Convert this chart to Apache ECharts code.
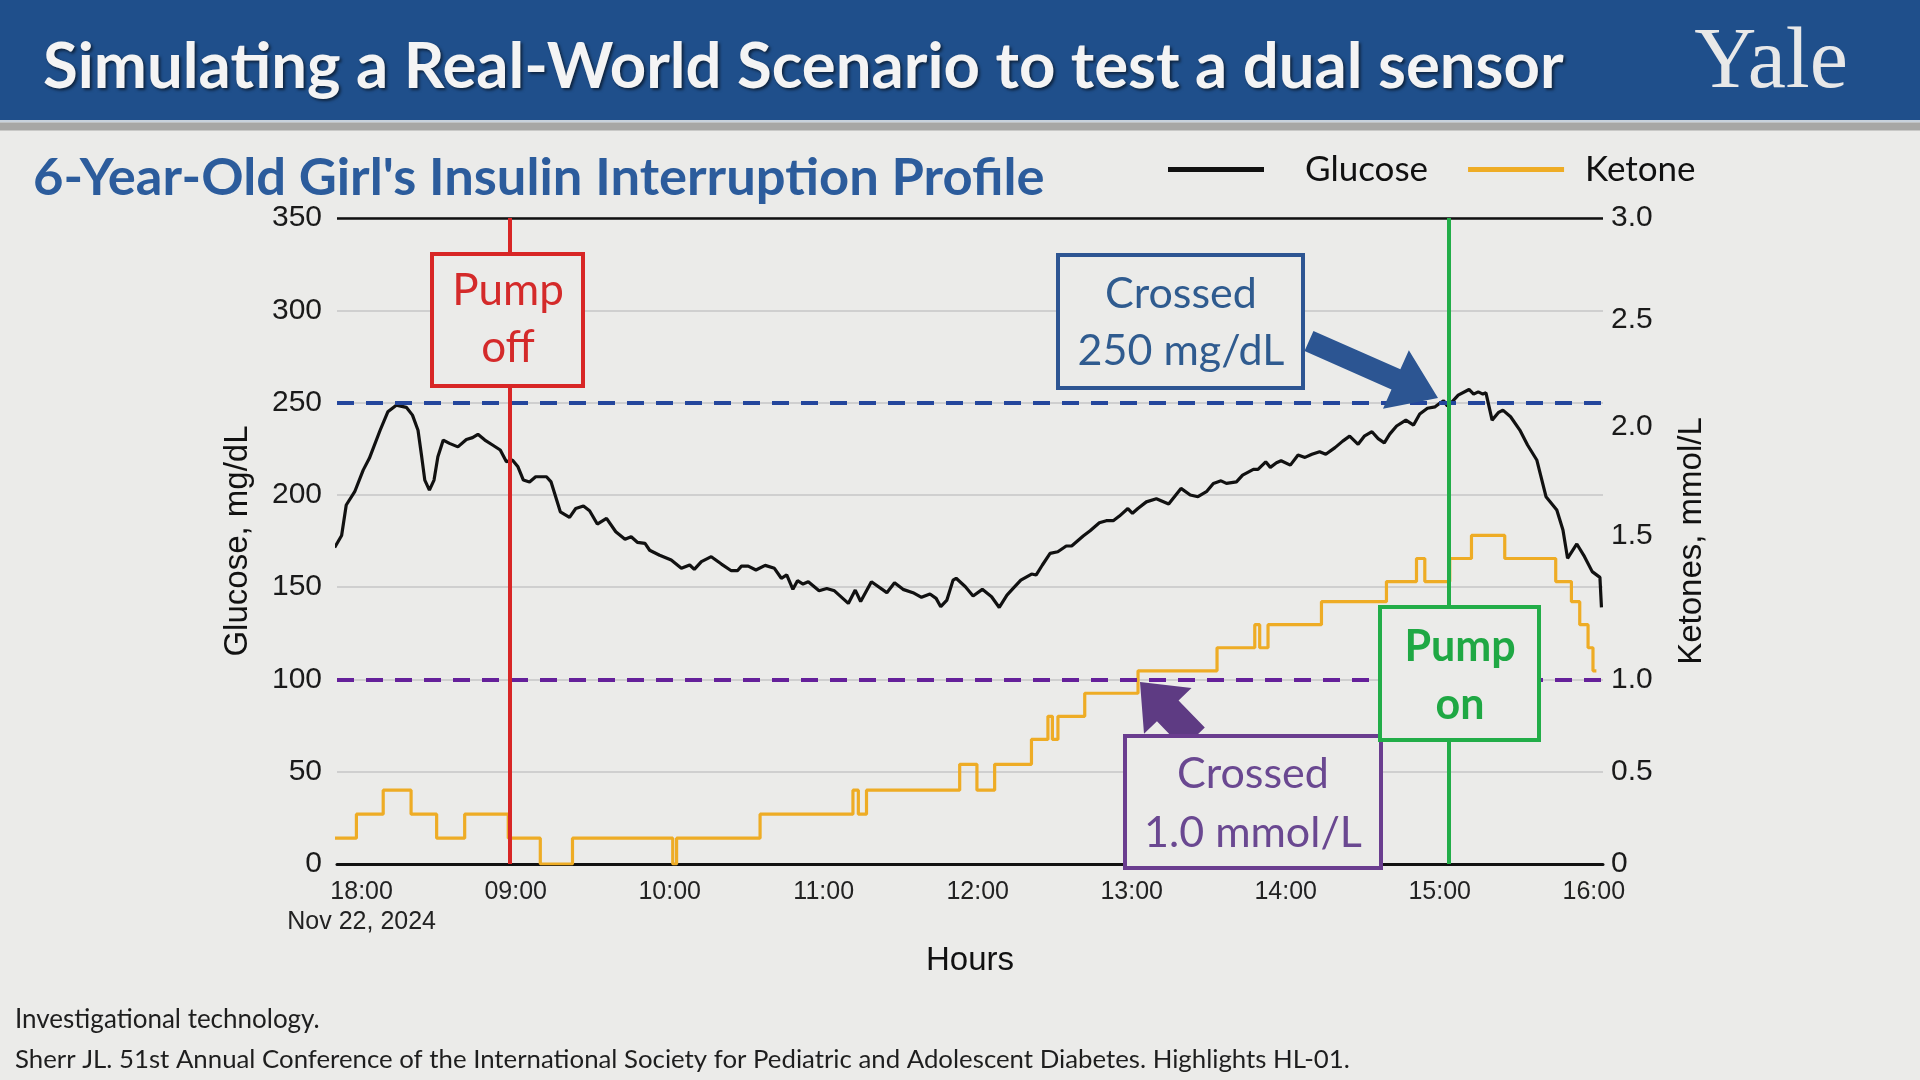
<!DOCTYPE html>
<html>
<head>
<meta charset="utf-8">
<script src="https://cdn.jsdelivr.net/npm/echarts@6/dist/echarts.min.js"></script>
<style>
html,body{margin:0;padding:0;background:#ebebe9;}
#c{width:1920px;height:1080px;}
</style>
</head>
<body>
<div id="c"></div>
<script>
// ---------------- data ----------------
const hourTicks = [8, 9, 10, 11, 12, 13, 14, 15, 16];
const hourLabels = ['18:00\nNov 22, 2024', '09:00', '10:00', '11:00', '12:00', '13:00', '14:00', '15:00', '16:00'];
const glucoseTicks = [0, 50, 100, 150, 200, 250, 300, 350];
const ketoneTickLabels = ['0', '0.5', '1.0', '1.5', '2.0', '2.5', '3.0'];
const ketoneTickMmol = [0, 0.5, 1.0, 1.5, 2.0, 2.5, 3.0];
const ketoneTickOnGlucoseScale = [0, 50, 100, 178, 237, 295, 350];
const pumpOffHour = 8.96;
const pumpOnHour = 15.065;
const glucoseThreshold = 250;
const ketoneThreshold = 1.0;

// [hour, mg/dL]
const glucose = [
[7.825,171.5],[7.87,178],[7.90,194.5],[7.955,201.7],[8.01,213.4],[8.05,219.8],[8.12,235],[8.17,245],
[8.225,248.6],[8.29,247.4],[8.33,243.2],[8.366,235],[8.39,220.6],[8.41,208],[8.44,202.6],[8.47,208],
[8.495,220.6],[8.53,229.7],[8.57,227.9],[8.625,226],[8.68,230],[8.72,231],[8.755,232.8],[8.80,229.7],
[8.85,227],[8.90,224.3],[8.94,218],[8.98,218.8],[9.015,215.2],[9.05,208],[9.09,207],[9.13,209.8],
[9.20,209.8],[9.23,207],[9.29,190.8],[9.35,187.8],[9.39,192.6],[9.44,194],[9.48,191.4],[9.53,184.2],
[9.59,187.3],[9.65,180],[9.71,175.9],[9.75,177.3],[9.79,174.3],[9.84,173.7],[9.87,170],[9.935,167.3],
[10.01,164.7],[10.076,160.2],[10.13,162],[10.16,159.6],[10.206,163.8],[10.27,166.5],[10.336,162.5],[10.40,158.9],
[10.44,158.9],[10.466,161.4],[10.51,161.4],[10.56,159.3],[10.62,161.8],[10.68,160.2],[10.725,154.8],[10.76,156.6],
[10.80,148.8],[10.83,153.5],[10.866,151.7],[10.90,152.9],[10.97,148],[11.02,149.3],[11.07,148],[11.16,141.2],
[11.205,148.4],[11.24,142.2],[11.31,152.9],[11.41,147],[11.46,152.4],[11.515,148.8],[11.58,147],[11.635,144.5],
[11.69,146.3],[11.73,143.9],[11.76,139.4],[11.80,143],[11.84,153.8],[11.86,154.8],[11.92,150.2],[11.97,145.2],
[12.03,148.8],[12.09,144.8],[12.14,139],[12.19,145.7],[12.23,149.3],[12.28,153.8],[12.35,157.1],[12.38,156.6],
[12.42,162],[12.47,168.3],[12.52,169.2],[12.575,172.3],[12.61,172.3],[12.685,177.7],[12.73,180.6],[12.79,184.9],
[12.835,186],[12.88,186],[12.92,188.5],[12.975,192.6],[13.005,190],[13.04,192.6],[13.095,196.2],[13.16,197.9],
[13.24,195],[13.32,203.5],[13.38,199.9],[13.43,199],[13.485,201.7],[13.53,206.2],[13.58,207.6],[13.615,206.2],
[13.68,207],[13.72,210.7],[13.79,213.8],[13.82,213.8],[13.87,217.9],[13.90,214.9],[13.94,217.4],[13.97,218.5],
[14.03,216.1],[14.08,221.6],[14.125,220.3],[14.17,222],[14.22,223.4],[14.26,222],[14.32,225.6],[14.37,229.1],
[14.415,231.8],[14.47,227.4],[14.51,231.8],[14.56,234.2],[14.60,230.5],[14.64,228.2],[14.675,232.9],[14.72,237.3],
[14.78,240.5],[14.83,237.8],[14.87,243.8],[14.92,246.9],[14.97,247.7],[15.00,249.6],[15.025,251],[15.05,248.1],
[15.08,250.4],[15.12,254],[15.19,257.1],[15.22,254.6],[15.25,255.8],[15.28,254.6],[15.30,255.3],[15.34,240.5],
[15.38,244.5],[15.41,245.9],[15.46,242.3],[15.52,235.1],[15.57,227],[15.63,218.9],[15.69,199],[15.76,191.8],
[15.80,181],[15.83,165.6],[15.89,173.4],[15.94,166.5],[15.99,158.4],[16.04,155.3],[16.05,139]
];

// [hour, mmol/L] – value holds from this hour on
const ketone = [
[7.827,0.14],[7.966,0.27],[8.14,0.40],[8.321,0.27],[8.487,0.14],[8.669,0.27],[8.952,0.14],[9.16,0],
[9.369,0.14],[10.02,0],[10.045,0.14],[10.587,0.27],[11.19,0.40],[11.225,0.27],[11.278,0.40],[11.883,0.54],
[11.995,0.40],[12.11,0.54],[12.349,0.675],[12.456,0.80],[12.485,0.675],[12.521,0.80],[12.695,0.925],[13.041,1.03],
[13.554,1.11],[13.799,1.19],[13.831,1.11],[13.885,1.19],[14.232,1.27],[14.654,1.34],[14.849,1.42],[14.903,1.34],
[15.065,1.42],[15.206,1.5],[15.422,1.42],[15.753,1.34],[15.855,1.27],[15.909,1.19],[15.963,1.11],[15.995,1.03],
[16.017,1.03]
];

// ---------------- helpers ----------------
function ketoneToAxis(v){
  for (let i = 1; i < ketoneTickMmol.length; i++){
    if (v <= ketoneTickMmol[i]){
      const a = ketoneTickMmol[i-1], b = ketoneTickMmol[i];
      const pa = ketoneTickOnGlucoseScale[i-1], pb = ketoneTickOnGlucoseScale[i];
      return pa + (v - a) / (b - a) * (pb - pa);
    }
  }
  return ketoneTickOnGlucoseScale[ketoneTickOnGlucoseScale.length-1];
}
function arrow(tail, tip, sw, hw, hl){
  const dx = tip[0]-tail[0], dy = tip[1]-tail[1];
  const L = Math.sqrt(dx*dx+dy*dy);
  const ux = dx/L, uy = dy/L, nx = -uy, ny = ux;
  const bx = tip[0]-ux*hl, by = tip[1]-uy*hl;
  return [
    [tail[0]+nx*sw/2, tail[1]+ny*sw/2],
    [bx+nx*sw/2, by+ny*sw/2],
    [bx+nx*hw/2, by+ny*hw/2],
    tip,
    [bx-nx*hw/2, by-ny*hw/2],
    [bx-nx*sw/2, by-ny*sw/2],
    [tail[0]-nx*sw/2, tail[1]-ny*sw/2]
  ];
}
const CAL = 'Lato, "Open Sans", sans-serif';
const ARIAL = '"Liberation Sans", Arial, sans-serif';
const BG = '#ebebe9';

function box(x, y, w, h, color){
  return {type:'rect', z:100, shape:{x:x, y:y, width:w, height:h},
    style:{fill:BG, stroke:color, lineWidth:4}};
}
function txt(text, x, y, size, color, weight, family, align){
  return {type:'text', z:101, x:x, y:y,
    style:{text:text, fill:color, font:(weight||'normal')+' '+size+'px '+(family||CAL),
      textAlign:align||'center', textVerticalAlign:'middle', align:align||'center', verticalAlign:'middle'}};
}

const chart = echarts.init(document.getElementById('c'), null, {renderer:'canvas'});

const option = {
  backgroundColor: BG,
  animation: false,
  grid: {left: 337, right: 317, top: 218, bottom: 216, containLabel: false},
  legend: {
    left: 1163, top: 147,
    icon: 'rect', itemWidth: 96, itemHeight: 5, itemGap: 40,
    textStyle: {fontSize: 35, fontFamily: CAL, color: '#111', padding: [0,0,0,36]},
    data: [
      {name: 'Glucose'},
      {name: 'Ketone', textStyle: {fontSize: 35, fontFamily: CAL, color: '#111', padding: [0,0,0,16]}}
    ]
  },
  xAxis: {
    type: 'value', min: 7.84, max: 16.06,
    name: 'Hours', nameLocation: 'middle', nameGap: 80,
    nameTextStyle: {fontSize: 33, fontFamily: ARIAL, color: '#111'},
    axisLine: {show: true, lineStyle: {color: '#111', width: 3}},
    axisTick: {show: false},
    splitLine: {show: false},
    axisLabel: {
      customValues: hourTicks,
      margin: 13, fontSize: 25, fontFamily: ARIAL, color: '#222', lineHeight: 30,
      formatter: function(v){ const i = hourTicks.indexOf(Math.round(v)); return i >= 0 ? hourLabels[i] : ''; }
    }
  },
  yAxis: [
    {
      type: 'value', min: 0, max: 350, interval: 50,
      name: 'Glucose, mg/dL', nameLocation: 'middle', nameGap: 83, nameRotate: 90,
      nameTextStyle: {fontSize: 33, fontFamily: ARIAL, color: '#111'},
      axisLine: {show: false}, axisTick: {show: false},
      splitLine: {show: true, lineStyle: {color: '#c6c6c6', width: 1.5}},
      axisLabel: {margin: 15, fontSize: 30, fontFamily: ARIAL, color: '#1a1a1a'}
    },
    {
      type: 'value', min: 0, max: 350, position: 'right',
      name: 'Ketones, mmol/L', nameLocation: 'middle', nameGap: 72, nameRotate: 90,
      nameTextStyle: {fontSize: 33, fontFamily: ARIAL, color: '#111'},
      axisLine: {show: false}, axisTick: {show: false}, splitLine: {show: false},
      axisLabel: {
        customValues: ketoneTickOnGlucoseScale,
        margin: 8, fontSize: 30, fontFamily: ARIAL, color: '#1a1a1a',
        formatter: function(v){ const i = ketoneTickOnGlucoseScale.indexOf(Math.round(v)); return i >= 0 ? ketoneTickLabels[i] : ''; }
      }
    }
  ],
  series: [
    {
      name: 'Ketone', type: 'line', yAxisIndex: 1, step: 'end', showSymbol: false, symbol: 'none',
      z: 3,
      lineStyle: {color: '#eeac25', width: 3.2}, itemStyle: {color: '#eeac25'},
      data: ketone.map(p => [p[0], ketoneToAxis(p[1])]),
      markLine: {
        silent: true, symbol: 'none', label: {show: false},
        data: [{yAxis: ketoneToAxis(ketoneThreshold), lineStyle: {color: '#65209a', width: 4, type: [17, 12]}}]
      }
    },
    {
      name: 'Glucose', type: 'line', showSymbol: false, symbol: 'none', z: 4,
      lineStyle: {color: '#111', width: 3.2}, itemStyle: {color: '#111'},
      data: glucose,
      markLine: {
        silent: true, symbol: 'none', label: {show: false},
        data: [
          {yAxis: 350, lineStyle: {color: '#111', width: 2.5, type: 'solid'}},
          {yAxis: glucoseThreshold, lineStyle: {color: '#24469c', width: 4, type: [17, 12]}},
          {xAxis: pumpOffHour, lineStyle: {color: '#d82626', width: 4, type: 'solid'}},
          {xAxis: pumpOnHour, lineStyle: {color: '#22ad48', width: 4, type: 'solid'}}
        ]
      }
    }
  ],
  graphic: [
    // header
    {type:'rect', z:50, shape:{x:0,y:0,width:1920,height:120}, style:{fill:'#1f4f8b'}},
    {type:'rect', z:50, shape:{x:0,y:120,width:1920,height:2.5}, style:{fill:'#c8d2dc'}},
    {type:'rect', z:50, shape:{x:0,y:122.5,width:1920,height:8}, style:{fill:'#a7a7a5'}},
    {type:'text', z:51, x:43, y:68, style:{text:'Simulating a Real-World Scenario to test a dual sensor',
      fill:'#f4f4f4', font:'bold 63.5px '+CAL, textAlign:'left', textVerticalAlign:'middle', align:'left', verticalAlign:'middle',
      textShadowColor:'rgba(0,0,0,0.55)', textShadowOffsetX:2, textShadowOffsetY:2, textShadowBlur:3}},
    {type:'text', z:51, x:1771, y:64, style:{text:'Yale', fill:'#e8e8e8',
      font:'normal 86px "Liberation Serif", "DejaVu Serif", serif', textAlign:'center', textVerticalAlign:'middle', align:'center', verticalAlign:'middle'}},
    // subtitle
    txt("6-Year-Old Girl's Insulin Interruption Profile", 33, 178, 52.5, '#2c5c9c', 'bold', CAL, 'left'),
    // footer
    txt('Investigational technology.', 15, 1020, 26, '#1e1e1e', 'normal', CAL, 'left'),
    txt('Sherr JL. 51st Annual Conference of the International Society for Pediatric and Adolescent Diabetes. Highlights HL-01.', 15, 1060, 25.8, '#1e1e1e', 'normal', CAL, 'left'),
    // arrows
    {type:'polygon', z:99, shape:{points: arrow([1309,341],[1438,398],22,64,46)}, style:{fill:'#2c5592'}},
    {type:'polygon', z:99, shape:{points: arrow([1194,738],[1140,682],30,66,40)}, style:{fill:'#5e3b83'}},
    // Pump off
    box(432, 254, 151, 132, '#d82626'),
    txt('Pump', 508, 291, 44, '#d42a2a'),
    txt('off', 508, 348, 44, '#d42a2a'),
    // Crossed 250
    box(1058, 255, 245, 133, '#2d5592'),
    txt('Crossed', 1181, 294, 43, '#2f5b8f'),
    txt('250 mg/dL', 1181, 351, 43, '#2f5b8f'),
    // Crossed 1.0
    box(1125, 736, 256, 132, '#6a3d8f'),
    txt('Crossed', 1253, 774, 43, '#6a4891'),
    txt('1.0 mmol/L', 1253, 833, 43, '#6a4891'),
    // Pump on
    box(1380, 607, 159, 133, '#22ad48'),
    txt('Pump', 1460, 647, 43, '#1fa844', 'bold'),
    txt('on', 1460, 705, 43, '#1fa844', 'bold')
  ]
};
chart.setOption(option);
</script>
</body>
</html>
